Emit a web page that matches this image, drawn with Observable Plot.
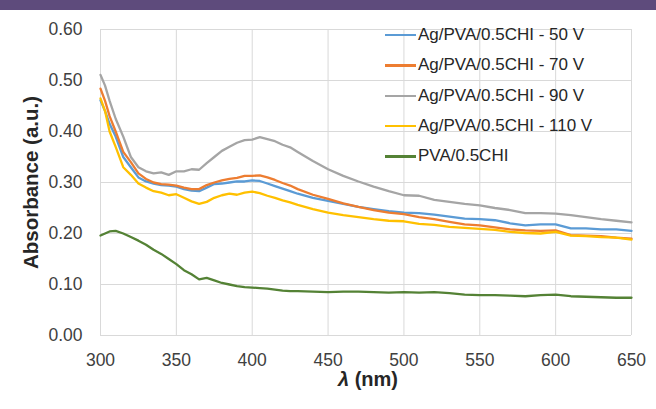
<!DOCTYPE html>
<html>
<head>
<meta charset="utf-8">
<script src="https://cdn.jsdelivr.net/npm/d3@7"></script>
<script src="https://cdn.jsdelivr.net/npm/@observablehq/plot@0.6"></script>
<style>
  html, body { margin: 0; padding: 0; background: #fff; }
  #wrap { position: relative; width: 656px; height: 409px; overflow: hidden; font-family: "Liberation Sans", Arial, sans-serif; }
  #bar { position: absolute; left: 0; top: 0; width: 656px; height: 10px; background: #5E4B7C; }
  #legend { position: absolute; left: 385px; top: 20px; }
  .row { height: 30.3px; display: flex; align-items: center; font-size: 17px; color: #262626; white-space: nowrap; }
  .sw { width: 31px; height: 2.4px; margin-right: 2px; }
  #xtitle { position: absolute; left: 0; width: 736px; top: 368px; line-height: 23px; text-align: center; font-weight: bold; font-size: 20px; color: #262626; }
</style>
</head>
<body>
<div id="wrap">
  <div id="chart"></div>
  <div id="bar"></div>
  <div id="legend"></div>
  <div id="xtitle"><i>λ</i> (nm)</div>
</div>
<script>
const seriesNames = ["Ag/PVA/0.5CHI - 50 V", "Ag/PVA/0.5CHI - 70 V", "Ag/PVA/0.5CHI - 90 V", "Ag/PVA/0.5CHI - 110 V", "PVA/0.5CHI"];
const seriesColors = ["#5B9BD5", "#ED7D31", "#A5A5A5", "#FFC000", "#548235"];

const wavelengths = [300,303,306,310,315,320,325,330,335,340,345,350,355,360,365,370,375,380,385,390,395,400,405,410,415,420,425,430,440,450,460,470,480,490,500,510,520,530,540,550,560,570,580,590,600,610,620,630,640,650];

const v50 = [0.461,0.440,0.415,0.390,0.350,0.330,0.310,0.302,0.298,0.295,0.294,0.292,0.287,0.284,0.283,0.290,0.297,0.298,0.300,0.302,0.302,0.304,0.303,0.298,0.293,0.288,0.283,0.278,0.270,0.264,0.258,0.252,0.248,0.244,0.241,0.240,0.237,0.233,0.229,0.228,0.226,0.220,0.216,0.218,0.218,0.210,0.210,0.208,0.208,0.205];
const v70 = [0.484,0.460,0.430,0.400,0.360,0.340,0.318,0.307,0.300,0.297,0.296,0.294,0.290,0.287,0.287,0.295,0.300,0.304,0.307,0.309,0.313,0.313,0.314,0.310,0.305,0.299,0.294,0.287,0.276,0.268,0.259,0.252,0.246,0.241,0.238,0.232,0.228,0.223,0.218,0.216,0.212,0.208,0.206,0.205,0.206,0.197,0.196,0.195,0.192,0.190];
const v90 = [0.511,0.490,0.460,0.425,0.390,0.350,0.330,0.322,0.318,0.320,0.315,0.322,0.322,0.326,0.325,0.338,0.350,0.362,0.370,0.378,0.383,0.384,0.389,0.385,0.381,0.374,0.369,0.360,0.342,0.326,0.313,0.302,0.292,0.283,0.275,0.274,0.266,0.262,0.258,0.255,0.250,0.246,0.240,0.240,0.239,0.236,0.232,0.228,0.225,0.222];
const v110 = [0.465,0.440,0.400,0.370,0.330,0.315,0.298,0.290,0.283,0.280,0.275,0.277,0.270,0.263,0.258,0.262,0.270,0.275,0.278,0.276,0.280,0.282,0.279,0.274,0.270,0.265,0.261,0.256,0.248,0.241,0.236,0.232,0.228,0.225,0.224,0.219,0.217,0.213,0.211,0.209,0.207,0.203,0.201,0.200,0.203,0.196,0.195,0.193,0.192,0.188];
const vPVA = [0.196,0.200,0.204,0.205,0.200,0.193,0.186,0.178,0.168,0.160,0.150,0.140,0.128,0.120,0.110,0.113,0.108,0.103,0.100,0.097,0.095,0.094,0.093,0.092,0.090,0.088,0.087,0.087,0.086,0.085,0.086,0.086,0.085,0.084,0.085,0.084,0.085,0.083,0.080,0.079,0.079,0.078,0.077,0.079,0.080,0.077,0.076,0.075,0.074,0.074];

const xTicks = [300,350,400,450,500,550,600,650];
const yTicks = [0,0.1,0.2,0.3,0.4,0.5,0.6];
const yTitle = "Absorbance (a.u.)";

const allSeries = [v50, v70, v90, v110, vPVA];
const data = [];
allSeries.forEach((vals, i) => {
  vals.forEach((v, j) => data.push({series: seriesNames[i], wl: wavelengths[j], v}));
});

const chart = Plot.plot({
  width: 656,
  height: 409,
  marginTop: 29,
  marginBottom: 74,
  marginLeft: 100,
  marginRight: 25,
  style: {fontFamily: "'Liberation Sans', Arial, sans-serif", fontSize: "17.5px", color: "#404040", background: "transparent"},
  x: {domain: [300, 650]},
  y: {domain: [0, 0.6]},
  color: {domain: seriesNames, range: seriesColors},
  marks: [
    Plot.gridX(xTicks, {stroke: "#D9D9D9", strokeOpacity: 1, strokeWidth: 1}),
    Plot.gridY(yTicks, {stroke: "#D9D9D9", strokeOpacity: 1, strokeWidth: 1}),
    Plot.axisX(xTicks, {tickSize: 0, tickPadding: 18, label: null, fill: "#404040"}),
    Plot.axisY(yTicks, {tickSize: 0, tickPadding: 18, label: null, tickFormat: d3.format(".2f"), fill: "#404040"}),
    Plot.line(data, {x: "wl", y: "v", z: "series", stroke: "series", strokeWidth: 2.3, curve: "linear"}),
    Plot.text([yTitle], {frameAnchor: "left", textAnchor: "middle", rotate: -90, dx: -69, fontWeight: "bold", fontSize: 20.5, fill: "#262626"})
  ]
});
document.getElementById("chart").appendChild(chart);

const legend = document.getElementById("legend");
seriesNames.forEach((name, i) => {
  const row = document.createElement("div");
  row.className = "row";
  const sw = document.createElement("span");
  sw.className = "sw";
  sw.style.background = seriesColors[i];
  const t = document.createElement("span");
  t.textContent = name;
  row.appendChild(sw);
  row.appendChild(t);
  legend.appendChild(row);
});
</script>
</body>
</html>
